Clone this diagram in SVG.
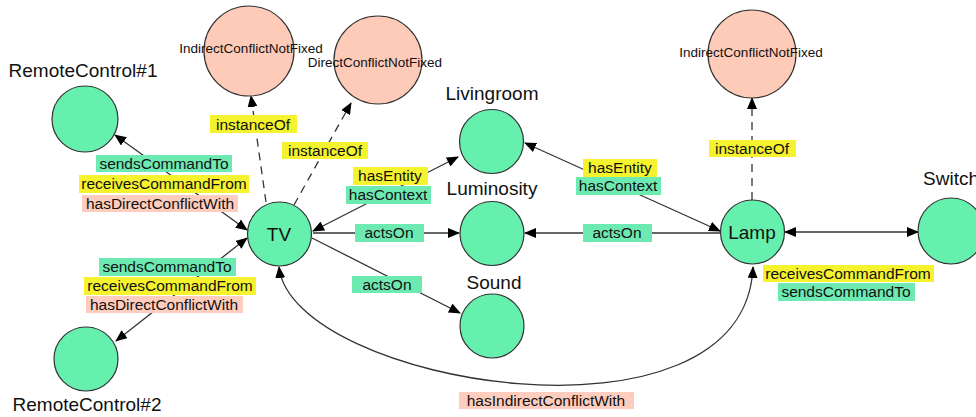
<svg xmlns="http://www.w3.org/2000/svg" width="976" height="417" viewBox="0 0 976 417">
<style>
.node{fill:#66f0ad;stroke:#333;stroke-width:1.2}
.conf{fill:#ffcbb9;stroke:#333;stroke-width:1.2}
.nl{font-family:"Liberation Sans",Arial,sans-serif;font-size:19px;fill:#111;text-anchor:middle}
.cl{font-family:"Liberation Sans",Arial,sans-serif;font-size:13.5px;fill:#111;text-anchor:middle}
.el{font-family:"Liberation Sans",Arial,sans-serif;font-size:15.5px;fill:#111;text-anchor:middle}
.e{fill:none;stroke:#333;stroke-width:1.3}
.d{stroke-dasharray:8 6}
.y{fill:#f5f32e}
.g{fill:#6deab2}
.s{fill:#ffcdbd}
</style>
<defs>
<marker id="a" markerUnits="userSpaceOnUse" markerWidth="12" markerHeight="10" refX="11" refY="5" orient="auto-start-reverse">
<path d="M0,0 L12,5 L0,10 z" fill="#000"/>
</marker>
</defs>
<rect width="976" height="417" fill="#fff"/>
<g id="connectors">
<line class="e" x1="247" y1="230" x2="115" y2="135" marker-start="url(#a)" marker-end="url(#a)"/>
<line class="e" x1="247" y1="238" x2="116" y2="341" marker-start="url(#a)" marker-end="url(#a)"/>
<line class="e" x1="313" y1="231" x2="458" y2="157" marker-start="url(#a)" marker-end="url(#a)"/>
<line class="e" x1="313" y1="233" x2="459" y2="233" marker-end="url(#a)"/>
<line class="e" x1="312" y1="238" x2="460" y2="313" marker-end="url(#a)"/>
<line class="e" x1="720" y1="231" x2="525" y2="143" marker-start="url(#a)" marker-end="url(#a)"/>
<line class="e" x1="720" y1="233" x2="525" y2="233" marker-end="url(#a)"/>
<line class="e" x1="785" y1="232" x2="918" y2="232" marker-start="url(#a)" marker-end="url(#a)"/>
<line class="e d" x1="752" y1="200" x2="752" y2="98" marker-end="url(#a)"/>
<line class="e d" x1="266" y1="202" x2="251" y2="96" marker-end="url(#a)"/>
<line class="e d" x1="294" y1="205" x2="351" y2="103" marker-end="url(#a)"/>
<path class="e" d="M279,267 C292,385 745,460 753,267" marker-start="url(#a)" marker-end="url(#a)"/>
</g>
<g id="labels">
<rect class="y" x="210" y="115" width="87" height="18"/><text class="el" x="253" y="130">instanceOf</text>
<rect class="y" x="282" y="142" width="86" height="17"/><text class="el" x="325" y="156">instanceOf</text>
<rect class="y" x="709" y="140" width="87" height="17"/><text class="el" x="752" y="154">instanceOf</text>
<rect class="g" x="96" y="155" width="136" height="17"/><text class="el" x="164" y="169">sendsCommandTo</text>
<rect class="y" x="79" y="175" width="170" height="18"/><text class="el" x="164" y="189">receivesCommandFrom</text>
<rect class="s" x="82" y="195" width="156" height="17"/><text class="el" x="160" y="209">hasDirectConflictWith</text>
<rect class="g" x="99" y="258" width="137" height="18"/><text class="el" x="167" y="272">sendsCommandTo</text>
<rect class="y" x="84" y="277" width="172" height="18"/><text class="el" x="170" y="291">receivesCommandFrom</text>
<rect class="s" x="86" y="296" width="157" height="17"/><text class="el" x="164" y="310">hasDirectConflictWith</text>
<rect class="y" x="353" y="167" width="75" height="18"/><text class="el" x="390" y="181">hasEntity</text>
<rect class="g" x="346" y="186" width="85" height="18"/><text class="el" x="388" y="200">hasContext</text>
<rect class="g" x="355" y="224" width="69" height="18"/><text class="el" x="389" y="238">actsOn</text>
<rect class="g" x="352" y="276" width="70" height="17"/><text class="el" x="387" y="290">actsOn</text>
<rect class="y" x="583" y="159" width="74" height="18"/><text class="el" x="620" y="173">hasEntity</text>
<rect class="g" x="576" y="177" width="85" height="18"/><text class="el" x="618" y="191">hasContext</text>
<rect class="g" x="583" y="224" width="69" height="18"/><text class="el" x="617" y="238">actsOn</text>
<rect class="y" x="763" y="265" width="171" height="17"/><text class="el" x="848" y="279">receivesCommandFrom</text>
<rect class="g" x="778" y="283" width="137" height="18"/><text class="el" x="846" y="297">sendsCommandTo</text>
<rect class="s" x="459" y="392" width="175" height="17"/><text class="el" x="546" y="406">hasIndirectConflictWith</text>
</g>
<g id="IndirectConflictNotFixed1">
<circle class="conf" cx="249" cy="51" r="45"/>
<text class="cl" x="251" y="53">IndirectConflictNotFixed</text>
</g>
<g id="DirectConflictNotFixed">
<circle class="conf" cx="378" cy="60" r="44"/>
<text class="cl" x="375" y="67">DirectConflictNotFixed</text>
</g>
<g id="IndirectConflictNotFixed2">
<circle class="conf" cx="752" cy="54" r="44"/>
<text class="cl" x="751" y="57">IndirectConflictNotFixed</text>
</g>
<g id="RemoteControl1">
<circle class="node" cx="85" cy="119" r="33"/>
<text class="nl" x="83" y="77">RemoteControl#1</text>
</g>
<g id="RemoteControl2">
<circle class="node" cx="86" cy="359" r="32"/>
<text class="nl" x="87" y="411">RemoteControl#2</text>
</g>
<g id="TV">
<circle class="node" cx="279.5" cy="234" r="32"/>
<text class="nl" x="279" y="241">TV</text>
</g>
<g id="Livingroom">
<circle class="node" cx="491.5" cy="141.5" r="32"/>
<text class="nl" x="492" y="100">Livingroom</text>
</g>
<g id="Luminosity">
<circle class="node" cx="492" cy="233.5" r="32"/>
<text class="nl" x="492" y="195">Luminosity</text>
</g>
<g id="Sound">
<circle class="node" cx="492" cy="326" r="32"/>
<text class="nl" x="494" y="289">Sound</text>
</g>
<g id="Lamp">
<circle class="node" cx="752.5" cy="232" r="32"/>
<text class="nl" x="752" y="239">Lamp</text>
</g>
<g id="Switch">
<circle class="node" cx="951" cy="231" r="33"/>
<text class="nl" x="951" y="185">Switch</text>
</g>
</svg>
